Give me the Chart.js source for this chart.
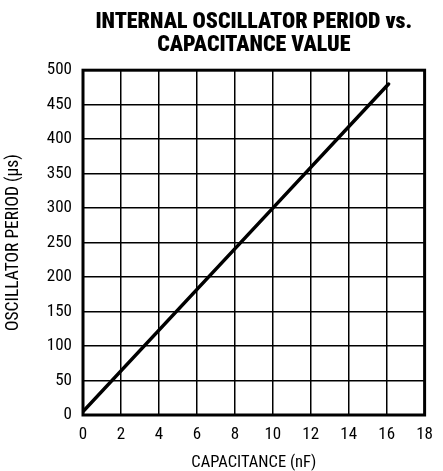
<!DOCTYPE html>
<html>
<head>
<meta charset="utf-8">
<style>
  html, body { margin: 0; padding: 0; background: #fff; }
  #wrap { width: 443px; height: 471px; }
</style>
<script src="https://cdn.jsdelivr.net/npm/chart.js@4.4.1/dist/chart.umd.min.js"></script>
</head>
<body>
<div id="wrap"><canvas id="c" width="443" height="471"></canvas></div>
<script>
const capacitance = [0, 10, 16.1];
const period = [5, 300, 480];
const xTicks = [0, 2, 4, 6, 8, 10, 12, 14, 16, 18];
const yTicks = [0, 50, 100, 150, 200, 250, 300, 350, 400, 450, 500];
const titleLines = ['INTERNAL OSCILLATOR PERIOD vs.', 'CAPACITANCE VALUE'];
const xTitle = 'CAPACITANCE (nF)';
const yTitle = 'OSCILLATOR PERIOD (µs)';

const FONT = "'Roboto Condensed', 'DejaVu Sans Condensed', sans-serif";

const borderPlugin = {
  id: 'frame',
  afterDatasetsDraw(chart) {
    const {ctx, chartArea: a} = chart;
    ctx.save();
    ctx.strokeStyle = '#000';
    ctx.lineWidth = 3;
    ctx.strokeRect(a.left, a.top, a.right - a.left, a.bottom - a.top);
    ctx.restore();
  }
};

new Chart(document.getElementById('c'), {
  type: 'scatter',
  data: {
    datasets: [{
      data: capacitance.map((x, i) => ({x: x, y: period[i]})),
      showLine: true,
      borderColor: '#000',
      borderWidth: 3.5,
      pointRadius: 0,
      borderCapStyle: 'round',
      tension: 0
    }]
  },
  options: {
    responsive: false,
    animation: false,
    devicePixelRatio: 1,
    layout: { padding: { left: 0, right: 18, top: 0, bottom: 0 } },
    plugins: {
      legend: { display: false },
      tooltip: { enabled: false },
      title: {
        display: true,
        text: titleLines,
        fullSize: false,
        color: '#000',
        font: { family: FONT, size: 22, weight: 900, lineHeight: 1.05 },
        padding: { top: 11, bottom: 13 }
      }
    },
    scales: {
      x: {
        type: 'linear',
        min: 0, max: 18,
        afterBuildTicks(scale) { scale.ticks = xTicks.map(v => ({value: v})); },
        afterFit(scale) { scale.height = 56; },
        ticks: { color: '#000', font: { family: FONT, size: 17 }, padding: 10, maxRotation: 0, autoSkip: false },
        grid: { color: '#000', lineWidth: 1.5, drawTicks: false },
        border: { display: false },
        title: { display: true, text: xTitle, color: '#000', font: { family: FONT, size: 16.5, lineHeight: 1.0 }, padding: { top: 4, bottom: 0 } }
      },
      y: {
        type: 'linear',
        min: 0, max: 500,
        afterBuildTicks(scale) { scale.ticks = yTicks.map(v => ({value: v})); },
        afterFit(scale) { scale.width = 83; },
        ticks: { color: '#000', font: { family: FONT, size: 17 }, padding: 11, autoSkip: false },
        grid: { color: '#000', lineWidth: 1.5, drawTicks: false },
        border: { display: false },
        title: { display: true, text: yTitle, color: '#000', font: { family: FONT, size: 17.5 }, padding: { top: 3, bottom: 0 } }
      }
    }
  },
  plugins: [borderPlugin]
});
</script>
</body>
</html>
